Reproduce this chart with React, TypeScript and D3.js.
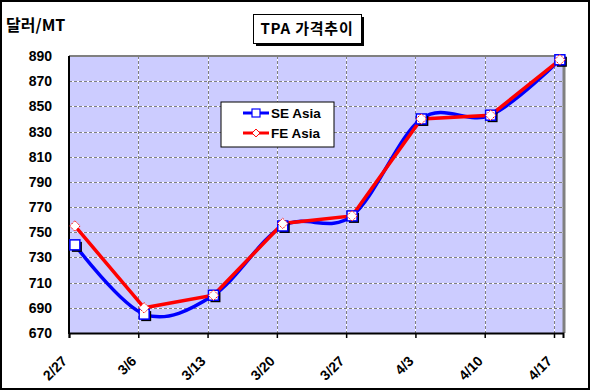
import * as d3 from "d3";
import { useEffect, useRef } from "react";

const categories = ["2/27", "3/6", "3/13", "3/20", "3/27", "4/3", "4/10", "4/17"];
const seAsia = [740, 685, 700, 755, 763, 840, 843, 887];
const feAsia = [755, 690, 700, 757, 763, 840, 843, 887];
const yTicks = [670, 690, 710, 730, 750, 770, 790, 810, 830, 850, 870, 890];

const W = 591;
const H = 391;

const App = () => {
  const ref = useRef<SVGSVGElement>(null);

  useEffect(() => {
    const svg = d3.select(ref.current);
    svg.selectAll("*").remove();

    const margin = { top: 56, bottom: 58, left: 69, right: 28 };
    const plotW = W - margin.left - margin.right;
    const plotH = H - margin.top - margin.bottom;

    // points sit a little right of each weekly tick, like the original date axis
    const pointOffset = 0.085;
    const x = d3.scaleLinear().domain([0, categories.length - 1 + 0.13]).range([0, plotW]);
    const y = d3.scaleLinear().domain([670, 890]).range([plotH, 0]);

    const font = "'Liberation Sans', Arial, sans-serif";

    svg.append("rect").attr("width", W).attr("height", H).attr("fill", "#fff");
    svg.append("rect")
      .attr("x", 1).attr("y", 1).attr("width", W - 3).attr("height", H - 3)
      .attr("fill", "none").attr("stroke", "#000").attr("stroke-width", 2);

    const g = svg.append("g").attr("transform", `translate(${margin.left},${margin.top})`);

    g.append("rect").attr("width", plotW).attr("height", plotH).attr("fill", "#CCCCFF");

    // grid
    const drawGrid = (x1: number, y1: number, x2: number, y2: number) => {
      g.append("line").attr("x1", x1).attr("y1", y1).attr("x2", x2).attr("y2", y2)
        .attr("stroke", "#fff").attr("stroke-width", 1).attr("shape-rendering", "crispEdges");
      g.append("line").attr("x1", x1).attr("y1", y1).attr("x2", x2).attr("y2", y2)
        .attr("stroke", "#808080").attr("stroke-width", 1).attr("stroke-dasharray", "3,2")
        .attr("shape-rendering", "crispEdges");
    };
    yTicks.slice(1).forEach(t => drawGrid(0, Math.round(y(t)) + 0.5, plotW, Math.round(y(t)) + 0.5));
    categories.forEach((_, i) => { if (i > 0) drawGrid(Math.round(x(i)) + 0.5, 0, Math.round(x(i)) + 0.5, plotH); });

    // plot border (gray top/right)
    g.append("line").attr("x1", 0).attr("y1", 0).attr("x2", plotW + 1).attr("y2", 0)
      .attr("stroke", "#808080").attr("stroke-width", 2);
    g.append("line").attr("x1", plotW + 1).attr("y1", 0).attr("x2", plotW + 1).attr("y2", plotH)
      .attr("stroke", "#808080").attr("stroke-width", 3);

    // axes
    const xAxis = d3.axisBottom(x).tickValues(d3.range(categories.length)).tickSize(5).tickFormat(() => "");
    const xg = g.append("g").attr("transform", `translate(0,${plotH})`).call(xAxis);
    xg.select(".domain").attr("stroke", "#000").attr("stroke-width", 2);
    xg.selectAll(".tick line").attr("stroke", "#000").attr("stroke-width", 1.5);

    g.append("line").attr("x1", 0).attr("y1", 0).attr("x2", 0).attr("y2", plotH + 1)
      .attr("stroke", "#000").attr("stroke-width", 2);

    yTicks.forEach(t => {
      g.append("text")
        .attr("x", -17).attr("y", y(t)).attr("dy", "0.36em")
        .attr("text-anchor", "end")
        .attr("font-family", font).attr("font-weight", "bold").attr("font-size", 14)
        .text(t);
    });

    categories.forEach((c, i) => {
      g.append("text")
        .attr("transform", `translate(${x(i) - 1},${plotH + 29}) rotate(-45)`)
        .attr("text-anchor", "end")
        .attr("font-family", font).attr("font-weight", "bold").attr("font-size", 14)
        .text(c);
    });

    // lines
    const px = (i: number) => x(i + pointOffset);
    const blueLine = d3.line<number>().x((_, i) => px(i)).y(d => y(d)).curve(d3.curveCatmullRom.alpha(0));
    const redLine = d3.line<number>().x((_, i) => px(i)).y(d => y(d));

    g.append("path").datum(seAsia).attr("d", blueLine)
      .attr("fill", "none").attr("stroke", "#0000FF").attr("stroke-width", 3.5);
    g.append("path").datum(feAsia).attr("d", redLine)
      .attr("fill", "none").attr("stroke", "#FF0000").attr("stroke-width", 3.5);

    // markers
    seAsia.forEach((d, i) => {
      g.append("rect").attr("x", px(i) - 3).attr("y", y(d) - 3).attr("width", 10).attr("height", 10)
        .attr("fill", "#000");
      g.append("rect").attr("x", px(i) - 5).attr("y", y(d) - 5).attr("width", 10).attr("height", 10)
        .attr("fill", "#fff").attr("stroke", "#0000FF").attr("stroke-width", 1.5);
    });
    const diamond = d3.symbol().type(d3.symbolDiamond2).size(70);
    feAsia.forEach((d, i) => {
      g.append("path").attr("d", diamond).attr("transform", `translate(${px(i)},${y(d)})`)
        .attr("fill", "#fff").attr("stroke", "#FF0000").attr("stroke-width", 1)
        .attr("stroke-dasharray", "1.5,1");
    });

    // legend
    const lg = svg.append("g").attr("transform", "translate(221,102)");
    lg.append("rect").attr("width", 113).attr("height", 45).attr("fill", "#fff")
      .attr("stroke", "#000").attr("stroke-width", 1);
    const items = [
      { name: "SE Asia", color: "#0000FF", yy: 11 },
      { name: "FE Asia", color: "#FF0000", yy: 31 }
    ];
    items.forEach(it => {
      lg.append("line").attr("x1", 22).attr("x2", 48).attr("y1", it.yy).attr("y2", it.yy)
        .attr("stroke", it.color).attr("stroke-width", 3);
      if (it.name === "SE Asia") {
        lg.append("rect").attr("x", 31).attr("y", it.yy - 4).attr("width", 8).attr("height", 8)
          .attr("fill", "#fff").attr("stroke", it.color).attr("stroke-width", 1.2);
      } else {
        lg.append("path").attr("d", d3.symbol().type(d3.symbolDiamond2).size(40))
          .attr("transform", `translate(35,${it.yy})`)
          .attr("fill", "#fff").attr("stroke", it.color).attr("stroke-width", 1);
      }
      lg.append("text").attr("x", 50).attr("y", it.yy).attr("dy", "0.36em")
        .attr("font-family", font).attr("font-weight", "bold").attr("font-size", 13.5)
        .text(it.name);
    });

    // title
    const tg = svg.append("g").attr("transform", "translate(253,14)");
    tg.append("rect").attr("x", 3).attr("y", 3).attr("width", 108).attr("height", 29).attr("fill", "#000");
    tg.append("rect").attr("x", 0.5).attr("y", 0.5).attr("width", 108).attr("height", 29)
      .attr("fill", "#fff").attr("stroke", "#000").attr("stroke-width", 1);
    tg.append("text").attr("x", 54).attr("y", 15).attr("dy", "0.36em").attr("text-anchor", "middle")
      .attr("font-family", "'Noto Sans CJK KR', " + font).attr("font-weight", "bold").attr("font-size", 15)
      .attr("letter-spacing", 0.8)
      .text("TPA 가격추이");

    svg.append("text").attr("x", 6).attr("y", 31)
      .attr("font-family", "'Noto Sans CJK KR', " + font).attr("font-weight", "bold").attr("font-size", 16)
      .text("달러/MT");
  }, []);

  return (
    <svg ref={ref} width={W} height={H}
      style={{ position: "absolute", left: 0, top: 0, display: "block" }} />
  );
};

export default App;
